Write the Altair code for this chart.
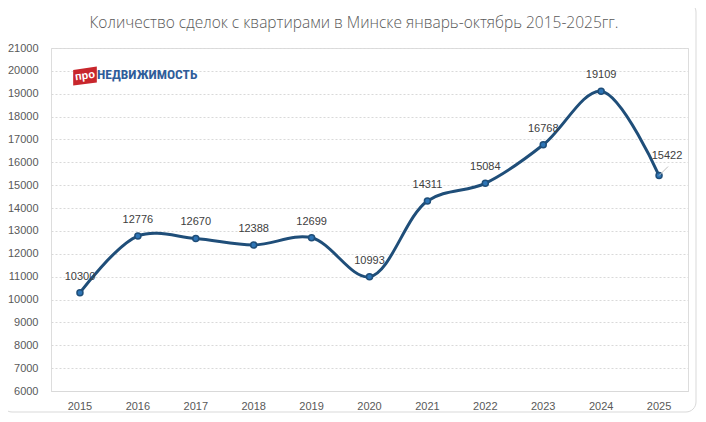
import altair as alt
import pandas as pd

years = ["2015", "2016", "2017", "2018", "2019", "2020", "2021", "2022", "2023", "2024", "2025"]
deals = [10300, 12776, 12670, 12388, 12699, 10993, 14311, 15084, 16768, 19109, 15422]
y_ticks = list(range(6000, 21001, 1000))
title_text = "Количество сделок с квартирами в Минске январь-октябрь  2015-2025гг."
logo_small = "про"
logo_big = "НЕДВИЖИМОСТЬ"

df = pd.DataFrame({"year": years, "deals": deals})
df_main = df.iloc[:-1]
df_last = df.iloc[-1:]

FONT = "Liberation Sans"
GREY = "#595959"
LINE = "#1F4E79"

x = alt.X("year:O", axis=alt.Axis(title=None, labelAngle=0, labelColor=GREY, labelFontSize=11,
                                    labelFont=FONT, ticks=False, domainColor="#D9D9D9",
                                    labelPadding=9, grid=False))
y = alt.Y("deals:Q", scale=alt.Scale(domain=[6000, 21000], nice=False),
          axis=alt.Axis(title=None, values=y_ticks, labelColor=GREY, labelFontSize=11,
                        labelFont=FONT, ticks=False, domain=False, labelPadding=13,
                        gridColor="#D9D9D9", gridDash=[2, 2], format="d"))

base = alt.Chart(df)

line = base.mark_line(interpolate="catmull-rom", color=LINE, strokeWidth=3).encode(x=x, y=y)
points = base.mark_point(filled=True, size=36, fill="#2E75B6", stroke=LINE, strokeWidth=1.5,
                         opacity=1).encode(x=x, y=y)
labels = alt.Chart(df_main).mark_text(dy=-16, fontSize=11, font=FONT, color="#404040",
                                      baseline="middle").encode(x=x, y=y, text="deals:Q")
last_label = alt.Chart(df_last).mark_text(dx=8, dy=-20, fontSize=11, font=FONT, color="#404040",
                                          baseline="middle").encode(x=x, y=y, text="deals:Q")
leader = alt.Chart(df_last).mark_rule(color="#BFBFBF", strokeWidth=1, x2Offset=9, y2Offset=-9).encode(
    x=x, y=y, x2="year:O", y2="deals:Q")

title = alt.Chart(pd.DataFrame({"t": [title_text]})).mark_text(
    fontSize=15.5, font="Open Sans", fontWeight=300, color=GREY, align="center", baseline="middle").encode(
    x=alt.value(303), y=alt.value(-25), text="t:N")

border = alt.Chart(pd.DataFrame({"a": [0]})).mark_rect(
    fill=None, stroke="#D9D9D9", strokeWidth=1, cornerRadius=10).encode(
    x=alt.value(-49), x2=alt.value(645), y=alt.value(-46), y2=alt.value(364))

logo_box = alt.Chart(pd.DataFrame({"a": [0]})).mark_point(
    shape="M-1,-0.5L1,-0.8L1,0.55L-1,0.8Z", filled=True, fill="#C8262C", size=560, opacity=1).encode(
    x=alt.value(34), y=alt.value(28))
logo_pro = alt.Chart(pd.DataFrame({"t": [logo_small]})).mark_text(
    fontSize=11, font=FONT, fontWeight="bold", color="white", align="center", baseline="middle", angle=352).encode(
    x=alt.value(34), y=alt.value(28), text="t:N")
logo_txt = alt.Chart(pd.DataFrame({"t": [logo_big]})).mark_text(
    fontSize=13.5, font="Liberation Sans Narrow, Arial Narrow, Roboto Condensed, Liberation Sans",
    fontWeight="bold", color="#2F5D9A", align="left", baseline="middle").encode(
    x=alt.value(46), y=alt.value(27), text="t:N")

chart = alt.layer(border, line, points, labels, leader, last_label, title, logo_box, logo_pro, logo_txt).properties(
    width=637, height=343,
    autosize=alt.AutoSizeParams(type="none"),
    padding={"left": 43, "top": 40, "right": 10, "bottom": 23},
).configure_view(stroke=None).configure(background="white")

chart.save("out.html", embed_options={"renderer": "svg", "actions": False})
